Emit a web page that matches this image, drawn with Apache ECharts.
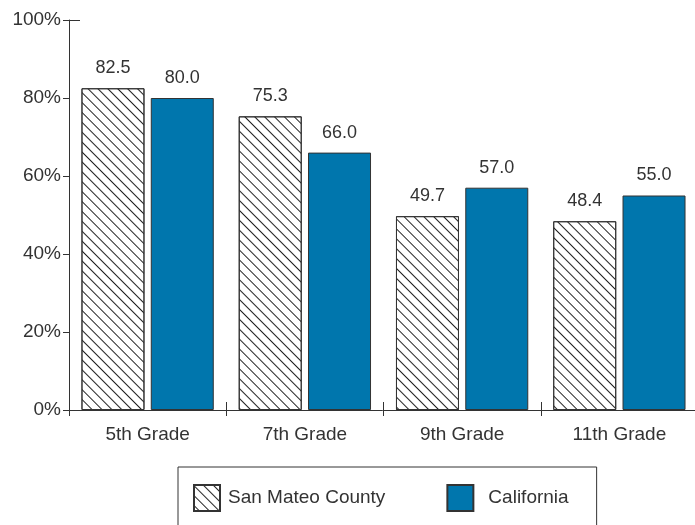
<!DOCTYPE html>
<html>
<head>
<meta charset="utf-8">
<script src="https://cdn.jsdelivr.net/npm/echarts@6/dist/echarts.min.js"></script>
<style>
    html, body {margin: 0; padding: 0; background: #fff;}
    #chart {width: 695px; height: 525px;}
</style>
</head>
<body>
<div id="chart"></div>
<script>
let grades = ['5th Grade', '7th Grade', '9th Grade', '11th Grade'];
let san_mateo = [82.5, 75.3, 49.7, 48.4];
let california = [80.0, 66.0, 57.0, 55.0];
let y_ticks = [0, 20, 40, 60, 80, 100];

let font = '"Liberation Sans", Arial, sans-serif';
let ink = '#333';

function gen_bar_series(name, data, extra_params) {
    let rt_dict = {
        name: name,
        type: 'bar',
        data: data,
        barWidth: 63,
        barGap: '10%',
        label: {
            show: true,
            position: 'top',
            distance: 11,
            formatter: (p) => p.value.toFixed(1),
            color: ink,
            fontFamily: font,
            fontSize: 18
        }
    };
    for (let key in extra_params) rt_dict[key] = extra_params[key];
    return rt_dict;
}

let chart = echarts.init(document.getElementById('chart'), null, {renderer: 'canvas'});

let option = {
    animation: false,
    textStyle: {fontFamily: font},
    grid: {left: 69, right: -3, top: 20, bottom: 115, outerBoundsMode: 'none'},
    legend: {
        left: 178,
        top: 467,
        padding: [17, 28, 17, 15],
        borderColor: ink,
        borderWidth: 1,
        itemWidth: 26,
        itemHeight: 26,
        itemGap: 61,
        icon: 'rect',
        textStyle: {color: ink, fontFamily: font, fontSize: 19, padding: [0, 0, 0, 3]},
        data: [
            'San Mateo County',
            {name: 'California', textStyle: {padding: [0, 0, 0, 10]}}
        ]
    },
    xAxis: [{
        type: 'category',
        data: grades,
        axisLine: {lineStyle: {color: ink, width: 1}},
        axisTick: {show: true, length: 6, lineStyle: {color: ink}},
        axisLabel: {color: ink, fontSize: 19, fontFamily: font, margin: 15}
    }, {
        type: 'category',
        data: grades,
        position: 'bottom',
        axisLine: {show: false},
        axisTick: {show: true, inside: true, length: 8, lineStyle: {color: ink}},
        axisLabel: {show: false}
    }],
    yAxis: [{
        type: 'value',
        min: y_ticks[0],
        max: y_ticks[y_ticks.length - 1],
        interval: 20,
        splitLine: {show: false},
        axisLine: {show: true, lineStyle: {color: ink}},
        axisTick: {show: true, length: 6, lineStyle: {color: ink}},
        axisLabel: {formatter: '{value}%', color: ink, fontSize: 19, fontFamily: font, margin: 8}
    }, {
        type: 'value',
        position: 'left',
        min: 0,
        max: 100,
        interval: 100,
        splitLine: {show: false},
        axisLine: {show: false},
        axisTick: {show: true, inside: true, length: 11, lineStyle: {color: ink}},
        axisLabel: {show: false}
    }],
    series: [
        gen_bar_series('San Mateo County', san_mateo, {
            itemStyle: {
                color: '#fff',
                borderColor: ink,
                borderWidth: 1,
                decal: {
                    symbol: 'rect',
                    symbolSize: 1,
                    color: '#222',
                    dashArrayX: [1, 0],
                    dashArrayY: [1, 5.5],
                    rotation: Math.PI / 4
                }
            }
        }),
        gen_bar_series('California', california, {
            itemStyle: {
                color: '#0076ad',
                borderColor: ink,
                borderWidth: 1
            }
        })
    ]
};

chart.setOption(option);
</script>
</body>
</html>
